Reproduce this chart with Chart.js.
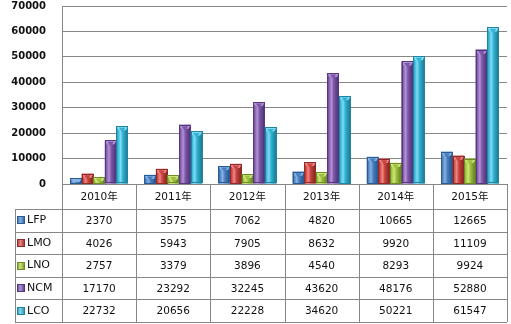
<!DOCTYPE html>
<html>
<head>
<meta charset="utf-8">
<script src="https://cdn.jsdelivr.net/npm/chart.js@4.4.1/dist/chart.umd.min.js"></script>
<style>
    html, body { margin: 0; padding: 0; background: #ffffff; }
</style>
</head>
<body>
<canvas id="batteryChart" width="511" height="324"></canvas>
<script>
// Data
const categories = ['2010年', '2011年', '2012年', '2013年', '2014年', '2015年'];
const seriesNames = ['LFP', 'LMO', 'LNO', 'NCM', 'LCO'];
const lfp = [2370, 3575, 7062, 4820, 10665, 12665];
const lmo = [4026, 5943, 7905, 8632, 9920, 11109];
const lno = [2757, 3379, 3896, 4540, 8293, 9924];
const ncm = [17170, 23292, 32245, 43620, 48176, 52880];
const lco = [22732, 20656, 22228, 34620, 50221, 61547];
const yMax = 70000;
const yStep = 10000;

// base / dark / light shades for each series
const palette = [
    { base: '#4a7ebb', dark: '#2b5b95', light: '#86b2e6' },
    { base: '#c8423f', dark: '#8e2a28', light: '#f08683' },
    { base: '#9cbf3d', dark: '#6e8c22', light: '#cbe67c' },
    { base: '#7e58a6', dark: '#553880', light: '#b392d8' },
    { base: '#33b2d4', dark: '#1f84a0', light: '#7fdcf2' }
];

const seriesValues = [lfp, lmo, lno, ncm, lco];
const gridColor = '#878787';
const textFont = '10.5px "DejaVu Sans", "Noto Sans CJK SC", sans-serif';

// Bevelled bar look drawn over the library's bar elements
const bevelBars = {
    id: 'bevelBars',
    afterDatasetsDraw(chart) {
        const ctx = chart.ctx;
        chart.data.datasets.forEach((ds, di) => {
            const c = palette[di];
            chart.getDatasetMeta(di).data.forEach(bar => {
                const left = bar.x - bar.width / 2;
                const right = bar.x + bar.width / 2;
                const top = bar.y;
                const bottom = bar.base;
                const w = right - left;
                const h = bottom - top;
                if (h <= 0) return;
                ctx.save();
                const g = ctx.createLinearGradient(left, 0, right, 0);
                g.addColorStop(0, c.dark);
                g.addColorStop(0.12, c.base);
                g.addColorStop(0.35, c.light);
                g.addColorStop(0.55, c.base);
                g.addColorStop(0.88, c.dark);
                g.addColorStop(1, c.dark);
                ctx.fillStyle = g;
                ctx.fillRect(left, top, w, h);
                // top bevel
                const bh = Math.min(4, h);
                ctx.fillStyle = c.light;
                ctx.beginPath();
                ctx.moveTo(left, top);
                ctx.lineTo(right, top);
                ctx.lineTo(right - 2, top + bh);
                ctx.lineTo(left + 2, top + bh);
                ctx.closePath();
                ctx.fill();
                if (h > 6) {
                    ctx.fillStyle = c.base;
                    ctx.beginPath();
                    ctx.moveTo(left + w * 0.22, top + 1.5);
                    ctx.lineTo(right - w * 0.22, top + 1.5);
                    ctx.lineTo(bar.x, top + Math.min(6, h - 1));
                    ctx.closePath();
                    ctx.fill();
                }
                ctx.strokeStyle = c.dark;
                ctx.lineWidth = 1;
                ctx.strokeRect(Math.round(left) + 0.5, Math.round(top) + 0.5, Math.round(w) - 1, Math.round(h) - 1);
                ctx.restore();
            });
        });
    }
};

// Data table under the plot
const dataTable = {
    id: 'dataTable',
    afterDraw(chart) {
        const ctx = chart.ctx;
        const area = chart.chartArea;
        const xScale = chart.scales.x;
        const catW = (area.right - area.left) / categories.length;
        const headTop = area.bottom;
        const headBottom = headTop + 25;
        const rowH = 22.6;
        const tableBottom = headBottom + rowH * seriesNames.length;
        const legendLeft = 15;

        ctx.save();
        ctx.strokeStyle = gridColor;
        ctx.lineWidth = 1;
        ctx.beginPath();
        // vertical lines
        for (let i = 0; i <= categories.length; i++) {
            const x = Math.round(area.left + i * catW) + 0.5;
            ctx.moveTo(x, headTop);
            ctx.lineTo(x, tableBottom);
        }
        ctx.moveTo(legendLeft + 0.5, headBottom);
        ctx.lineTo(legendLeft + 0.5, tableBottom);
        // horizontal lines
        for (let r = 0; r <= seriesNames.length; r++) {
            const y = Math.round(headBottom + r * rowH) + 0.5;
            ctx.moveTo(legendLeft, y);
            ctx.lineTo(area.right, y);
        }
        ctx.stroke();

        ctx.font = textFont;
        ctx.fillStyle = '#111111';
        ctx.textAlign = 'center';
        ctx.textBaseline = 'middle';
        categories.forEach((cat, i) => {
            const x = xScale.getPixelForValue(i);
            ctx.fillText(cat, x, (headTop + headBottom) / 2 + 1);
        });
        seriesNames.forEach((name, r) => {
            const cy = headBottom + rowH * (r + 0.5) + 1;
            seriesValues[r].forEach((v, i) => {
                ctx.fillText(String(v), xScale.getPixelForValue(i), cy);
            });
            // legend key
            const c = palette[r];
            const kg = ctx.createLinearGradient(17, 0, 25, 0);
            kg.addColorStop(0, c.dark);
            kg.addColorStop(0.4, c.light);
            kg.addColorStop(1, c.dark);
            ctx.fillStyle = kg;
            ctx.fillRect(17, Math.round(cy) - 5, 8, 8);
            ctx.strokeStyle = c.dark;
            ctx.strokeRect(17.5, Math.round(cy) - 4.5, 7, 7);
            ctx.fillStyle = '#111111';
            ctx.textAlign = 'left';
            ctx.font = '11px "DejaVu Sans", sans-serif';
            ctx.fillText(name, 27, cy - 1);
            ctx.font = textFont;
            ctx.textAlign = 'center';
        });
        ctx.restore();
    }
};

const ctx = document.getElementById('batteryChart').getContext('2d');

new Chart(ctx, {
    type: 'bar',
    data: {
        labels: categories,
        datasets: seriesNames.map((name, i) => ({
            label: name,
            data: seriesValues[i],
            backgroundColor: palette[i].base,
            borderWidth: 0,
            categoryPercentage: 0.78,
            barPercentage: 1.0
        }))
    },
    options: {
        responsive: false,
        animation: false,
        layout: {
            padding: { left: 0, right: 4, top: 0, bottom: 140 }
        },
        plugins: {
            legend: { display: false },
            tooltip: { enabled: false }
        },
        scales: {
            x: {
                display: false
            },
            y: {
                min: 0,
                max: yMax,
                ticks: {
                    stepSize: yStep,
                    color: '#111111',
                    padding: 16,
                    font: { family: '"DejaVu Sans", sans-serif', size: 10, weight: 'bold' },
                    callback: (value) => String(value)
                },
                grid: {
                    color: gridColor,
                    drawTicks: false
                },
                border: {
                    display: true,
                    color: gridColor
                },
                afterFit: (scale) => {
                    scale.width = 62;
                    scale.paddingTop = 6;
                    scale.paddingBottom = 0;
                }
            }
        }
    },
    plugins: [bevelBars, dataTable]
});
</script>
</body>
</html>
